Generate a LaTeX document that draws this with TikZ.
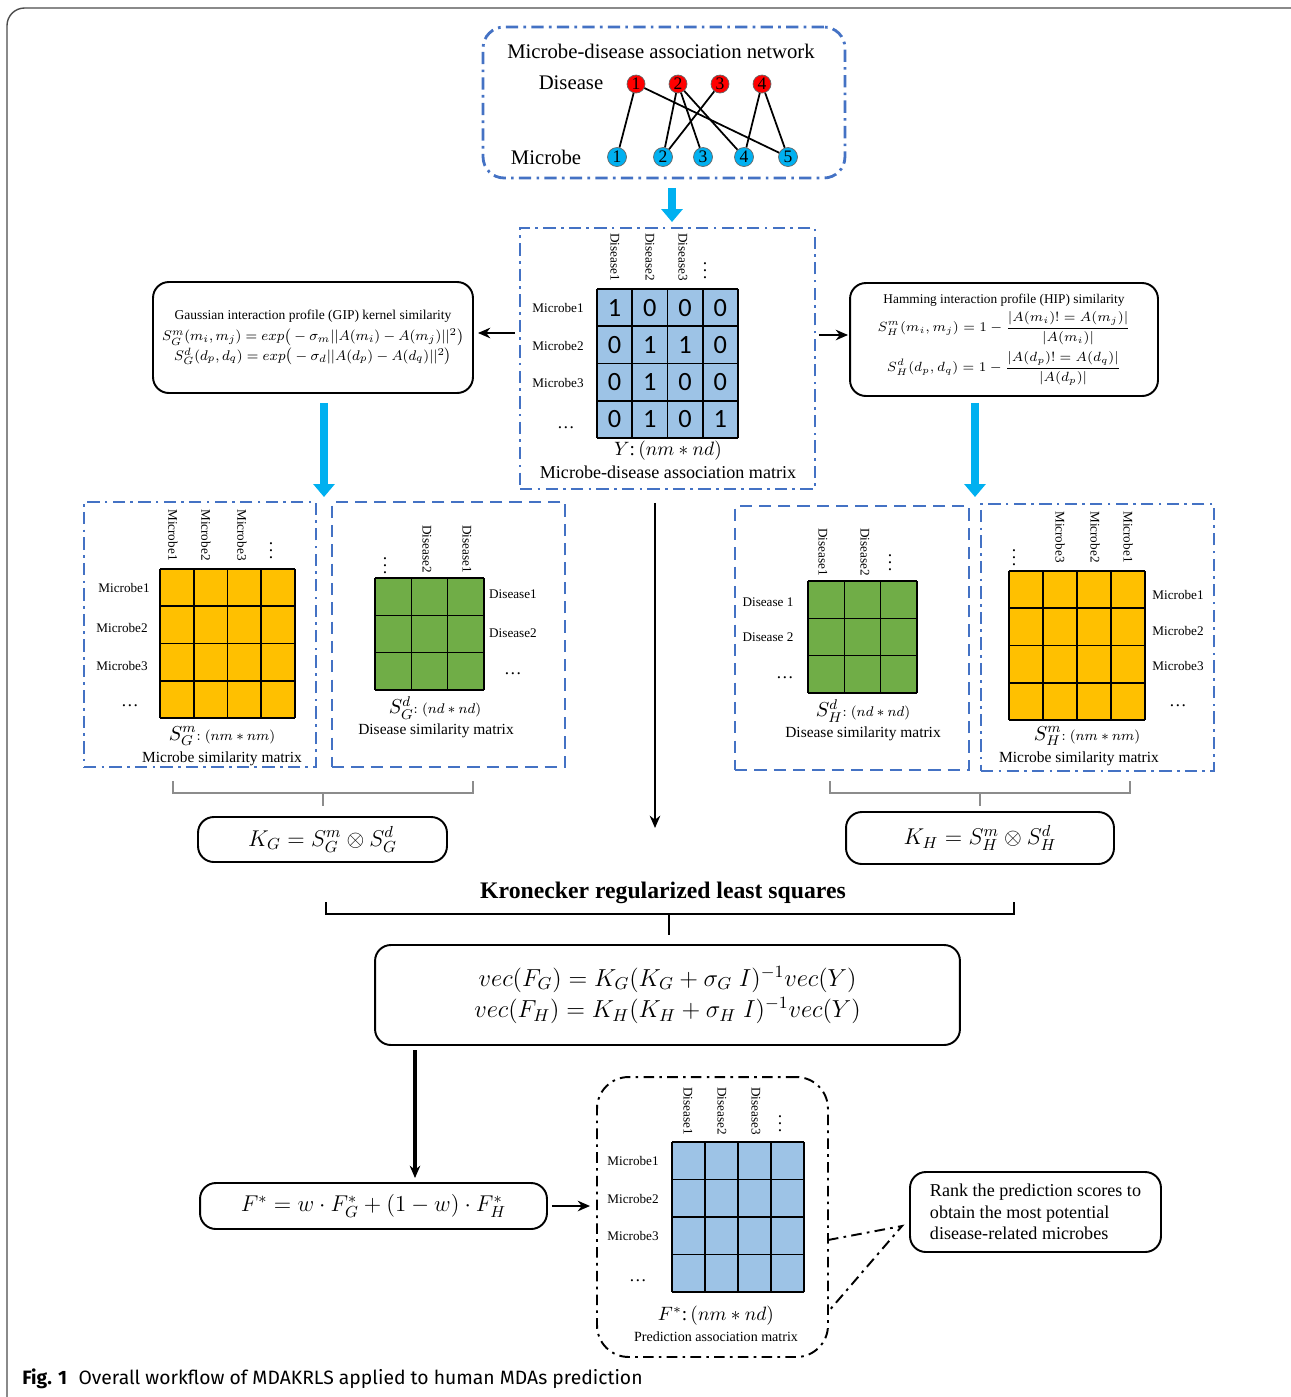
\RequirePackage{fix-cm}
\documentclass[tikz,border=0pt]{standalone}
\usepackage{amsmath}
\usepackage{fontspec}
\setmainfont{Liberation Serif}
\newfontfamily\capfont{Fira Sans}
\newfontfamily\numfont{Carlito}
\usetikzlibrary{arrows.meta, calc}

\definecolor{boxblue}{RGB}{68,114,196}
\definecolor{cellblue}{RGB}{157,195,230}
\definecolor{cellorange}{RGB}{255,192,0}
\definecolor{cellgreen}{RGB}{112,173,71}
\definecolor{disred}{RGB}{255,0,0}
\definecolor{micblue}{RGB}{0,176,240}

% fill, x0, y0, x1, y1, columns, rows
\newcommand{\drawmatrix}[7]{%
  \fill[#1] (#2,#3) rectangle (#4,#5);
  \foreach \mi in {0,...,#6} \draw[gridline] ({#2+(#4-#2)*\mi/#6},#3) -- ({#2+(#4-#2)*\mi/#6},#5);
  \foreach \mi in {0,...,#7} \draw[gridline] (#2,{#3+(#5-#3)*\mi/#7}) -- (#4,{#3+(#5-#3)*\mi/#7});
}

\begin{document}
\begin{tikzpicture}[
  x=0.02cm, y=-0.02cm,
  dashdot/.style={draw=boxblue, line width=1.6pt, dash pattern=on 7pt off 3pt on 1.5pt off 3pt},
  dashline/.style={draw=boxblue, line width=1.6pt, dash pattern=on 7pt off 4pt},
  ddblack/.style={draw=black, line width=1.1pt, dash pattern=on 6pt off 3pt on 1.5pt off 3pt},
  panel/.style={inner sep=0pt, outer sep=0pt},
  roundbox/.style={draw, line width=1.1pt, rounded corners=9pt, inner sep=0pt, outer sep=0pt, align=center},
  gridline/.style={line width=0.9pt},
  dnode/.style={circle, fill=disred, draw=black!60, minimum size=0.36cm, inner sep=0pt, font=\fontsize{10}{10}\selectfont},
  mnode/.style={circle, fill=micblue, draw=black!60, minimum size=0.38cm, inner sep=0pt, font=\fontsize{10}{10}\selectfont},
  link/.style={line width=1pt},
  collbl/.style={rotate=-90, anchor=west, inner sep=0pt, font=\fontsize{7.5}{9}\selectfont},
  rowlbl/.style={inner sep=0pt, font=\fontsize{7.5}{9}\selectfont},
  dots/.style={inner sep=0pt, font=\fontsize{10}{10}\selectfont},
  cellnum/.style={inner sep=0pt, font=\numfont\fontsize{15}{15}\selectfont},
  matlbl/.style={inner sep=0pt, font=\fontsize{8.8}{10}\selectfont},
  arrow/.style={-{Stealth[length=7pt,width=6pt]}, line width=1.2pt},
  bluearrow/.style={-{Triangle[length=0.26cm,width=0.42cm]}, line width=0.16cm, draw=micblue},
  brace/.style={draw=black!45, line width=0.6pt}
]
\useasboundingbox (0,0) rectangle (1291,1397);
\draw[black!70, line width=0.8pt, rounded corners=10pt] (7,8) rectangle (1310,1430);

%% Association network
\node[panel, dashdot, rounded corners=12pt, minimum width=7.24cm, minimum height=3.02cm] (net) at (664,102.5) {};
\node[font=\fontsize{11.8}{13}\selectfont] (nettitle) at (661,51) {Microbe-disease association network};
\node[font=\fontsize{11.8}{13}\selectfont] (dislbl) at (571,83) {Disease};
\node[font=\fontsize{11.8}{13}\selectfont] (miclbl) at (546,157) {Microbe};
\foreach \i/\x in {1/636,2/678,3/720,4/762}
  \node[dnode] (d\i) at (\x,84) {\i};
\foreach \i/\x in {1/617,2/663,3/703,4/744,5/788}
  \node[mnode] (m\i) at (\x,157) {\i};
\foreach \a/\b in {1/1,1/5,2/2,2/3,2/4,3/2,4/4,4/5}
  \draw[link] (d\a) -- (m\b);

%% Association matrix Y
\node[panel, dashdot, minimum width=5.9cm, minimum height=5.22cm] (ymat) at (667.5,358.5) {};
\coordinate (netout) at (672,188);
\draw[bluearrow, shorten <=0.2cm, shorten >=0.12cm] (net.south -| netout) -- (ymat.north -| netout);
\drawmatrix{cellblue}{597}{289}{738}{438}{4}{4}
\foreach \vals [count=\r] in {{1,0,0,0},{0,1,1,0},{0,1,0,0},{0,1,0,1}}
  \foreach \v [count=\c] in \vals
    \node[cellnum] (y\r\c) at ({597+35.25*(\c-0.5)},{289+37.25*(\r-0.5)}) {\v};
\node[collbl] (yc1) at (615,233) {Disease1};
\node[collbl] (yc2) at (650,233) {Disease2};
\node[collbl] (yc3) at (683,233) {Disease3};
\node[dots] (ycd) at (705,265) {$\vdots$};
\node[rowlbl] (yr1) at (558,308) {Microbe1};
\node[rowlbl] (yr2) at (558,346) {Microbe2};
\node[rowlbl] (yr3) at (558,383) {Microbe3};
\node[dots] (yrd) at (566,428) {\ldots};
\node[inner sep=0pt, font=\fontsize{11}{12}\selectfont] (ydim) at (668,451) {$Y$:\,$(nm \ast nd)$};
\node[inner sep=0pt, font=\fontsize{10.3}{12}\selectfont] (ycap) at (668,472) {Microbe-disease association matrix};

%% Similarity measures
\node[roundbox, minimum width=6.4cm, minimum height=2.22cm, font=\fontsize{8}{11}\selectfont] (gip) at (313,337.5)
  {{\fontsize{7.7}{9}\selectfont Gaussian interaction profile (GIP) kernel similarity}\\[1pt]
   $S_G^m(m_i,m_j) = exp\big(-\sigma_m||A(m_i)-A(m_j)||^2\big)$\\
   $S_G^d(d_p,d_q) = exp\big(-\sigma_d||A(d_p)-A(d_q)||^2\big)$};
\node[roundbox, minimum width=6.16cm, minimum height=2.26cm, font=\fontsize{7.6}{10}\selectfont] (hip) at (1004,339.5)
  {{\fontsize{7.6}{9}\selectfont Hamming interaction profile (HIP) similarity}\\[2pt]
   $S_H^m(m_i,m_j) = 1-\dfrac{|A(m_i)!=A(m_j)|}{|A(m_i)|}$\\[3pt]
   $S_H^d(d_p,d_q) = 1-\dfrac{|A(d_p)!=A(d_q)|}{|A(d_p)|}$};
\draw[arrow, shorten <=0.1cm, shorten >=0.1cm] (ymat.west |- 0,333) -- (gip.east |- 0,333);
\draw[arrow, shorten <=0.08cm, shorten >=0.04cm] (ymat.east |- 0,335) -- (hip.west |- 0,335);
\coordinate (gapL) at (324,497);
\coordinate (gapR) at (975,497);
\draw[bluearrow, shorten <=0.2cm] (gip.south -| gapL) -- (gapL);
\draw[bluearrow, shorten <=0.14cm] (hip.south -| gapR) -- (gapR);

%% GIP similarity matrices
\node[panel, dashdot, minimum width=4.64cm, minimum height=5.3cm] (gm) at (200,634.5) {};
\drawmatrix{cellorange}{160}{569}{295}{718}{4}{4}
\node[collbl] (gmc1) at (173,509) {Microbe1};
\node[collbl] (gmc2) at (206,509) {Microbe2};
\node[collbl] (gmc3) at (242,509) {Microbe3};
\node[dots] (gmcd) at (271,545) {$\vdots$};
\node[rowlbl] (gmr1) at (124,588) {Microbe1};
\node[rowlbl] (gmr2) at (122,628) {Microbe2};
\node[rowlbl] (gmr3) at (122,666) {Microbe3};
\node[dots] (gmrd) at (130,706) {\ldots};
\node[inner sep=0pt] (gmdim) at (222,736) {{\fontsize{11.5}{12}\selectfont$S_G^m$}{\fontsize{8}{9}\selectfont$:(nm\ast nm)$}};
\node[matlbl] (gmcap) at (222,759) {Microbe similarity matrix};

\node[panel, dashline, minimum width=4.66cm, minimum height=5.3cm] (gd) at (448.5,634.5) {};
\drawmatrix{cellgreen}{375}{578}{484}{690}{3}{3}
\node[dots] (gdcd) at (385,560) {$\vdots$};
\node[collbl] (gdc2) at (427,525) {Disease2};
\node[collbl] (gdc1) at (467,525) {Disease1};
\node[rowlbl] (gdr1) at (513,594) {Disease1};
\node[rowlbl] (gdr2) at (513,633) {Disease2};
\node[dots] (gdrd) at (513,674) {\ldots};
\node[inner sep=0pt] (gddim) at (435,708) {{\fontsize{11.5}{12}\selectfont$S_G^d$}{\fontsize{8}{9}\selectfont$:(nd\ast nd)$}};
\node[matlbl] (gdcap) at (436,731) {Disease similarity matrix};

%% HIP similarity matrices
\node[panel, dashline, minimum width=4.68cm, minimum height=5.28cm] (hd) at (852,638) {};
\drawmatrix{cellgreen}{808}{581}{917}{693}{3}{3}
\node[collbl] (hdc1) at (823,528) {Disease1};
\node[collbl] (hdc2) at (865,528) {Disease2};
\node[dots] (hdcd) at (890,557) {$\vdots$};
\node[rowlbl] (hdr1) at (768,602) {Disease 1};
\node[rowlbl] (hdr2) at (768,637) {Disease 2};
\node[dots] (hdrd) at (785,678) {\ldots};
\node[inner sep=0pt] (hddim) at (863,711) {{\fontsize{11.5}{12}\selectfont$S_H^d$}{\fontsize{8}{9}\selectfont$:(nd\ast nd)$}};
\node[matlbl] (hdcap) at (863,734) {Disease similarity matrix};

\node[panel, dashdot, minimum width=4.66cm, minimum height=5.34cm] (hm) at (1097.5,637.5) {};
\drawmatrix{cellorange}{1009}{571}{1145}{720}{4}{4}
\node[dots] (hmcd) at (1014,552) {$\vdots$};
\node[collbl] (hmc3) at (1060,511) {Microbe3};
\node[collbl] (hmc2) at (1095,511) {Microbe2};
\node[collbl] (hmc1) at (1128,511) {Microbe1};
\node[rowlbl] (hmr1) at (1178,595) {Microbe1};
\node[rowlbl] (hmr2) at (1178,631) {Microbe2};
\node[rowlbl] (hmr3) at (1178,666) {Microbe3};
\node[dots] (hmrd) at (1178,706) {\ldots};
\node[inner sep=0pt] (hmdim) at (1087,736) {{\fontsize{11.5}{12}\selectfont$S_H^m$}{\fontsize{8}{9}\selectfont$:(nm\ast nm)$}};
\node[matlbl] (hmcap) at (1079,759) {Microbe similarity matrix};

%% Kronecker kernels
\coordinate (ydown) at (655,828);
\draw[arrow, shorten <=0.28cm] (ymat.south -| ydown) -- (ydown);
\draw[brace] (173,781) -- (173,793) -- (473,793) -- (473,781);
\draw[brace] (323,793) -- (323,806);
\draw[brace] (830,781) -- (830,793) -- (1130,793) -- (1130,781);
\draw[brace] (980,793) -- (980,806);
\node[roundbox, minimum width=4.98cm, minimum height=0.9cm, font=\fontsize{13}{14}\selectfont] (kg) at (322.5,839.5) {$K_G = S_G^m \otimes S_G^d$};
\node[roundbox, minimum width=5.36cm, minimum height=1.04cm, font=\fontsize{13}{14}\selectfont] (kh) at (980,838) {$K_H = S_H^m \otimes S_H^d$};

%% KRLS
\node[font=\bfseries\fontsize{13.5}{15}\selectfont] (krls) at (663,893) {Kronecker regularized least squares};
\draw[line width=0.9pt] (326,902) -- (326,914) -- (1014,914) -- (1014,902);
\draw[line width=0.9pt] (669,914) -- (669,935);
\node[roundbox, minimum width=11.7cm, minimum height=2cm, font=\fontsize{14}{18}\selectfont] (vec) at (667.5,995)
  {$vec(F_G) = K_G(K_G + \sigma_G\; I)^{-1} vec(Y)$\\
   $vec(F_H) = K_H(K_H + \sigma_H\; I)^{-1} vec(Y)$};

%% Combination and prediction
\coordinate (fin) at (415,1178);
\draw[arrow, line width=2pt, shorten <=0.1cm] (vec.south -| fin) -- (fin);
\node[roundbox, minimum width=6.94cm, minimum height=0.92cm, font=\fontsize{13}{14}\selectfont] (fstar) at (373.5,1206) {$F^* = w\cdot F_G^* + (1-w)\cdot F_H^*$};

\node[panel, ddblack, rounded corners=18pt, minimum width=4.62cm, minimum height=5.6cm] (pred) at (712.5,1217) {};
\draw[arrow, shorten <=0.1cm, shorten >=0.14cm] (fstar.east) -- (fstar.east -| pred.west);
\drawmatrix{cellblue}{672}{1142}{804}{1292}{4}{4}
\node[collbl] (pc1) at (688,1087) {Disease1};
\node[collbl] (pc2) at (722,1087) {Disease2};
\node[collbl] (pc3) at (756,1087) {Disease3};
\node[dots] (pcd) at (780,1118) {$\vdots$};
\node[rowlbl] (pr1) at (633,1161) {Microbe1};
\node[rowlbl] (pr2) at (633,1199) {Microbe2};
\node[rowlbl] (pr3) at (633,1236) {Microbe3};
\node[dots] (prd) at (638,1281) {\ldots};
\node[inner sep=0pt, font=\fontsize{11}{12}\selectfont] (pdim) at (716,1316) {$F^*$:\,$(nm \ast nd)$};
\node[inner sep=0pt, font=\fontsize{8}{9}\selectfont] (pcap) at (716,1337) {Prediction association matrix};

\node[roundbox, align=left, minimum width=5.02cm, minimum height=1.6cm, font=\fontsize{10.3}{12.3}\selectfont] (rank) at (1035.5,1212)
  {Rank the prediction scores to\\obtain the most potential\\disease-related microbes};
\coordinate (apex) at (902,1226);
\draw[ddblack] (pred.east |- 0,1240) -- (apex) -- (pred.east |- 0,1312);

%% Caption
\node[anchor=west, inner sep=0pt, font=\capfont\fontsize{11}{13}\selectfont] (cap) at (22,1379)
  {\textbf{Fig. 1}\hspace{0.6em}Overall workflow of MDAKRLS applied to human MDAs prediction};
\end{tikzpicture}
\end{document}
